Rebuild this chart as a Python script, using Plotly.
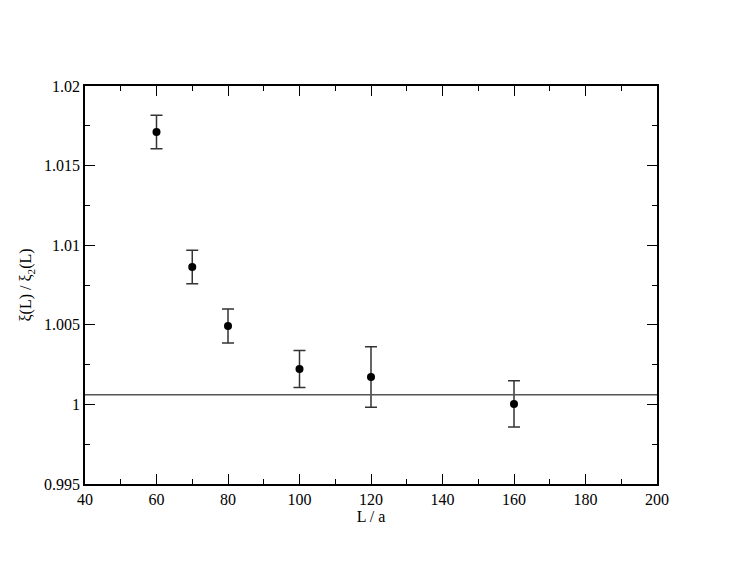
import plotly.graph_objects as go

# data
L_over_a = [60, 70, 80, 100, 120, 160]
ratio = [1.01711, 1.00863, 1.00493, 1.00222, 1.00172, 1.00003]
ratio_err = [0.00105, 0.00105, 0.00107, 0.00116, 0.0019, 0.00145]
fit_level = 1.0006

FONT = "Liberation Serif, Times New Roman, Times, DejaVu Serif, serif"

fig = go.Figure()

fig.add_trace(go.Scatter(
    x=L_over_a,
    y=ratio,
    mode='markers',
    marker=dict(size=8, color='black'),
    error_y=dict(type='data', array=ratio_err, visible=True,
                 color='#333333', thickness=1.5, width=6),
    showlegend=False,
))

# horizontal fit line across the full x range
fig.add_hline(y=fit_level, line=dict(color='#555555', width=1.5))

axis_common = dict(
    showgrid=False,
    zeroline=False,
    showline=True,
    linecolor='black',
    linewidth=1.5,
    mirror='allticks',
    ticks='inside',
    ticklen=10,
    tickwidth=1,
    tickcolor='black',
    tickfont=dict(family=FONT, size=16, color='black'),
)

fig.update_xaxes(
    range=[40, 200],
    dtick=20,
    minor=dict(dtick=10, ticks='inside', ticklen=5, tickcolor='black'),
    title=dict(text='L / a', font=dict(family=FONT, size=16, color='black'), standoff=2),
    **axis_common,
)
fig.update_yaxes(
    range=[0.995, 1.02],
    dtick=0.005,
    minor=dict(dtick=0.0025, ticks='inside', ticklen=5, tickcolor='black'),
    title=dict(text='ξ(L) / ξ<sub>2</sub>(L)', font=dict(family=FONT, size=16, color='black'), standoff=8),
    **axis_common,
)

fig.update_layout(
    width=740,
    height=572,
    margin=dict(l=77, r=91, t=78, b=96),
    plot_bgcolor='white',
    paper_bgcolor='white',
    font=dict(family=FONT, color='black'),
)

fig.write_html("out.html")
